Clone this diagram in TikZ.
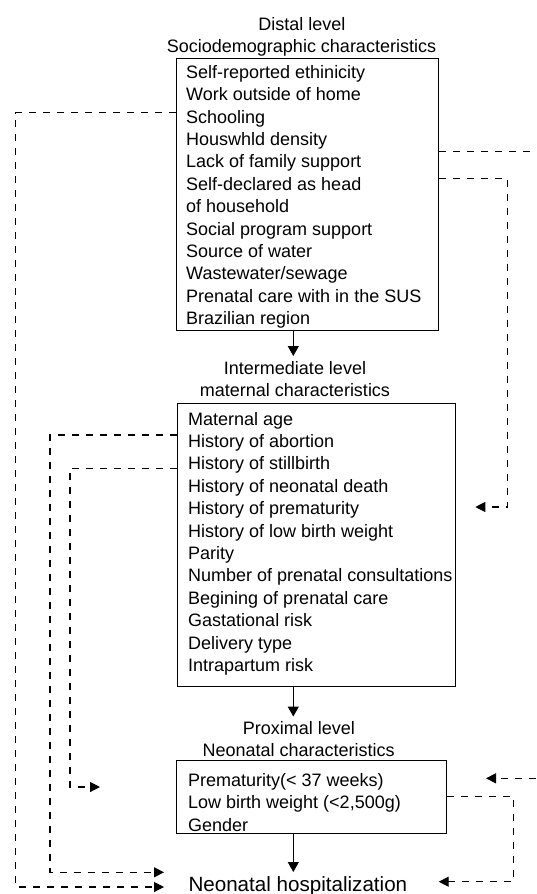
\documentclass[tikz,border=0pt]{standalone}
\usepackage{fontspec}
\setmainfont{Liberation Sans}
\usetikzlibrary{arrows.meta}
\begin{document}
\begin{tikzpicture}[x=1pt,y=-1pt,
  box/.style={draw,line width=1.1pt,inner sep=0pt,anchor=north west},
  lst/.style={inner sep=0pt,anchor=base west,font=\fontsize{18}{22.4}\selectfont},
  ttl/.style={inner sep=0pt,anchor=base,font=\fontsize{18}{22}\selectfont},
  solidarr/.style={line width=1.1pt,-{Triangle[length=10pt,width=11pt]}},
  dasharr/.style={line width=1.1pt,dash pattern=on 7pt off 7pt,-{Triangle[length=10pt,width=10pt]}}]
\useasboundingbox (0,0) rectangle (537,894);
% titles
\node[ttl] (t1a) at (302,30) {Distal level};
\node[ttl] (t1b) at (301.5,52) {Sociodemographic characteristics};
\node[ttl] (t2a) at (295,374) {Intermediate level};
\node[ttl] (t2b) at (295,396.5) {maternal characteristics};
\node[ttl] (t3a) at (299,734) {Proximal level};
\node[ttl] (t3b) at (298.7,756) {Neonatal characteristics};
% boxes
\node[box,minimum width=262,minimum height=272] (distal) at (176,58) {};
\node[box,minimum width=278,minimum height=283] (inter) at (177,403) {};
\node[box,minimum width=270.5,minimum height=73] (prox) at (175.5,760) {};
% lists
\node[lst] (l1) at (186,78.3) {\parbox[t]{250pt}{Self-reported ethinicity\\Work outside of home\\Schooling\\Houswhld density\\Lack of family support\\Self-declared as head\\of household\\Social program support\\Source of water\\Wastewater/sewage\\Prenatal care with in the SUS\\Brazilian region}};
\node[lst] (l2) at (188,425) {\parbox[t]{270pt}{Maternal age\\History of abortion\\History of stillbirth\\History of neonatal death\\History of prematurity\\History of low birth weight\\Parity\\Number of prenatal consultations\\Begining of prenatal care\\Gastational risk\\Delivery type\\Intrapartum risk}};
\node[lst] (l3) at (188,786.5) {\parbox[t]{260pt}{Prematurity(< 37 weeks)\\Low birth weight (<2,500g)\\Gender}};
% outcome
\node[inner sep=0pt,anchor=base west,font=\fontsize{20.6}{24}\selectfont] (out) at (188.3,891) {Neonatal hospitalization};
% solid arrows
\coordinate (a1) at (293.3,356);
\coordinate (a2) at (293.3,716.5);
\coordinate (a3) at (293.3,872);
\draw[solidarr] (distal.south -| a1) -- (a1);
\draw[solidarr] (inter.south -| a2) -- (a2);
\draw[solidarr] (prox.south -| a3) -- (a3);
% left dashed
\coordinate (e1) at (164,887);
\coordinate (e2) at (164,872.3);
\coordinate (e3) at (100,787);
\draw[dasharr] (distal.west |- 0,112.7) -| (15.7,887) -- (e1);
\draw[dasharr] (inter.west |- 0,435) -| (50,872.3) -- (e2);
\draw[dasharr] (inter.west |- 0,468.3) -| (70,787) -- (e3);
% right dashed
\coordinate (e4) at (486,778.3);
\coordinate (e5) at (475.3,507);
\coordinate (e6) at (438.7,881.7);
\draw[dasharr] (distal.east |- 0,151.7) -| (545,778.3) -- (e4);
\draw[dasharr] (distal.east |- 0,178.3) -| (507.7,507) -- (e5);
\draw[dasharr] (prox.east |- 0,796.3) -| (513.3,881.7) -- (e6);
\end{tikzpicture}
\end{document}
